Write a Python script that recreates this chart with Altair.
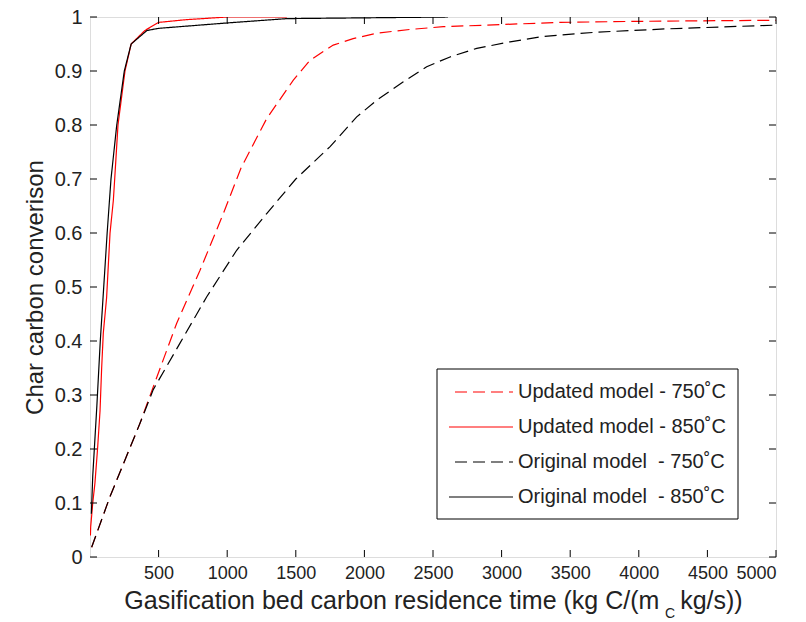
import altair as alt
import pandas as pd

# ---------------- data ----------------
NB = "\u00a0"
series_names = [
    "Updated model - 750˚C",
    "Updated model - 850˚C",
    "Original model" + NB + NB + "- 750˚C",
    "Original model" + NB + NB + "- 850˚C",
]
series_colors = ["#ff0000", "#ff0000", "#000000", "#000000"]
series_dash = [[12, 6], [1, 0], [12, 6], [1, 0]]

upd750_x = [12, 146, 365, 461, 632, 802, 972, 1100, 1288, 1482, 1604, 1773, 1918, 2090, 2333, 2575, 2990, 3426, 4000, 5000]
upd750_y = [0.018, 0.112, 0.248, 0.315, 0.433, 0.531, 0.636, 0.72, 0.812, 0.883, 0.92, 0.948, 0.96, 0.97, 0.977, 0.982, 0.986, 0.99, 0.992, 0.994]

upd850_x = [3, 5, 20, 36, 55, 73, 85, 97, 121, 146, 170, 180, 204, 255, 300, 400, 500, 700, 1000, 1435]
upd850_y = [0.04, 0.056, 0.1, 0.137, 0.2, 0.27, 0.35, 0.415, 0.48, 0.6, 0.66, 0.7, 0.8, 0.9, 0.95, 0.975, 0.99, 0.995, 1.0, 1.0]

orig750_x = [12, 146, 365, 461, 656, 851, 1069, 1288, 1500, 1750, 1944, 2090, 2284, 2454, 2624, 2819, 3062, 3300, 3700, 4200, 5000]
orig750_y = [0.018, 0.112, 0.248, 0.31, 0.396, 0.482, 0.568, 0.636, 0.7, 0.76, 0.815, 0.846, 0.88, 0.908, 0.926, 0.942, 0.954, 0.964, 0.972, 0.978, 0.985]

orig850_x = [10, 20, 50, 75, 100, 125, 153, 195, 250, 300, 415, 500, 1000, 1435, 2609]
orig850_y = [0.08, 0.15, 0.28, 0.4, 0.5, 0.6, 0.7, 0.8, 0.9, 0.95, 0.975, 0.979, 0.989, 0.997, 1.0]

x_ticks = [500, 1000, 1500, 2000, 2500, 3000, 3500, 4000, 4500, 5000]
y_ticks = [0, 0.1, 0.2, 0.3, 0.4, 0.5, 0.6, 0.7, 0.8, 0.9, 1]

x_title = "Gasification bed carbon residence time (kg C/(m" + NB * 3 + "kg/s))"
x_title_sub = ["C"]
y_title = "Char carbon converison"

# ---------------- build table ----------------
rows = []
for name, xs, ys in zip(series_names,
                        [upd750_x, upd850_x, orig750_x, orig850_x],
                        [upd750_y, upd850_y, orig750_y, orig850_y]):
    for i, (xv, yv) in enumerate(zip(xs, ys)):
        rows.append({"series": name, "x": xv, "y": yv, "i": i})
df = pd.DataFrame(rows)

W, H = 686, 540
FONT = "Liberation Sans"
TXT = "#222222"

xscale = alt.Scale(domain=[0, 5000], nice=False, zero=False)
yscale = alt.Scale(domain=[0, 1], nice=False, zero=False)

x_axis = alt.Axis(values=x_ticks, format="d", title=x_title, ticks=False,
                  domain=False, grid=False, labelPadding=7, titlePadding=6,
                  labelFontSize=18, titleFontSize=25, labelFont=FONT,
                  titleFont=FONT, labelColor=TXT, titleColor=TXT,
                  titleFontWeight="normal")
y_axis = alt.Axis(values=y_ticks, format="~g", title=y_title, ticks=False,
                  domain=False, grid=False, labelPadding=8, titlePadding=7,
                  labelFontSize=20, titleFontSize=24, labelFont=FONT,
                  titleFont=FONT, labelColor=TXT, titleColor=TXT,
                  titleFontWeight="normal")

lines = alt.Chart(df).mark_line(strokeWidth=1.2, clip=True).encode(
    x=alt.X("x:Q", scale=xscale, axis=x_axis),
    y=alt.Y("y:Q", scale=yscale, axis=y_axis),
    color=alt.Color("series:N",
                    scale=alt.Scale(domain=series_names, range=series_colors),
                    legend=None),
    strokeDash=alt.StrokeDash("series:N",
                              scale=alt.Scale(domain=series_names, range=series_dash),
                              legend=None),
    order="i:Q",
)

xt = pd.DataFrame({"x": x_ticks})
yt = pd.DataFrame({"y": y_ticks})
tick_len = 7

xt_bottom = alt.Chart(xt).mark_rule(color="black", strokeWidth=1).encode(
    x=alt.X("x:Q", scale=xscale, axis=x_axis),
    y=alt.value(H), y2=alt.value(H - tick_len))
xt_top = alt.Chart(xt).mark_rule(color="black", strokeWidth=1).encode(
    x=alt.X("x:Q", scale=xscale, axis=x_axis),
    y=alt.value(0), y2=alt.value(tick_len))
yt_left = alt.Chart(yt).mark_rule(color="black", strokeWidth=1).encode(
    y=alt.Y("y:Q", scale=yscale, axis=y_axis),
    x=alt.value(0), x2=alt.value(tick_len))
yt_right = alt.Chart(yt).mark_rule(color="black", strokeWidth=1).encode(
    y=alt.Y("y:Q", scale=yscale, axis=y_axis),
    x=alt.value(W), x2=alt.value(W - tick_len))

sub = alt.Chart(pd.DataFrame({"t": x_title_sub})).mark_text(
    font=FONT, fontSize=14, color=TXT, align="left", baseline="alphabetic").encode(
    text="t:N", x=alt.value(575), y=alt.value(601))

# ---------------- legend (drawn by hand, Matlab style) ----------------
leg_box = alt.Chart(pd.DataFrame({"b": [0]})).mark_rect(
    fill="white", stroke="black", strokeWidth=1).encode(
    x=alt.value(347), x2=alt.value(648), y=alt.value(352), y2=alt.value(502))

leg_layers = []
row_y = [375, 410, 445, 480]
for k, name in enumerate(series_names):
    d = pd.DataFrame({"series": [name]})
    leg_layers.append(alt.Chart(d).mark_rule(
        strokeWidth=1.2, color=series_colors[k], strokeDash=series_dash[k]).encode(
        x=alt.value(359 if series_dash[k][1] == 0 else 365), x2=alt.value(423),
        y=alt.value(row_y[k])))
    leg_layers.append(alt.Chart(d).mark_text(
        font=FONT, fontSize=20, color=TXT, align="left", baseline="middle").encode(
        text="series:N", x=alt.value(428), y=alt.value(row_y[k])))

chart = alt.layer(lines, xt_bottom, xt_top, yt_left, yt_right, sub, leg_box,
                  *leg_layers).properties(
    width=W, height=H,
    autosize=alt.AutoSizeParams(type="none"),
    padding={"left": 90, "top": 17, "right": 30, "bottom": 65},
).configure_view(stroke="black", strokeWidth=1.2).configure(background="white")

chart.save("out.html", embed_options={"renderer": "svg", "actions": False})
